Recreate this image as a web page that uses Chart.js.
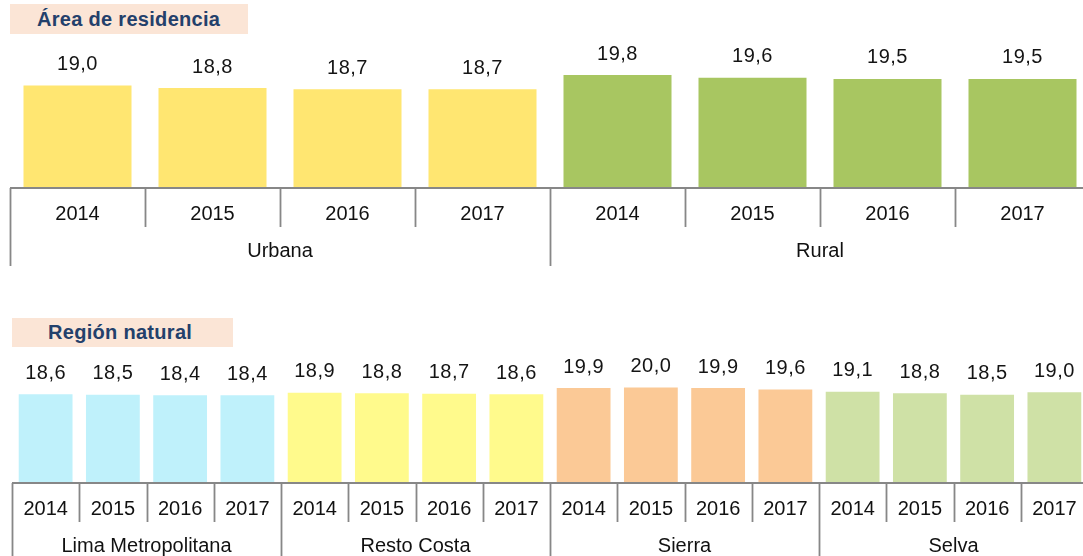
<!DOCTYPE html>
<html lang="es">
<head>
<meta charset="utf-8">
<title>Edad promedio</title>
<script src="https://cdn.jsdelivr.net/npm/chart.js@4/dist/chart.umd.min.js"></script>
<style>
  html, body { margin: 0; padding: 0; background: #fff; overflow: hidden; }
  body { width: 1083px; height: 556px; position: relative; font-family: "Liberation Sans", Arial, sans-serif; }
  .box { position: absolute; width: 1090px; }
  .tag {
    position: absolute; background: #fbe5d6; color: #23406b;
    font-weight: bold; font-size: 20px; letter-spacing: 0.3px;
    box-sizing: border-box; line-height: 30px; white-space: nowrap;
  }
</style>
</head>
<body>
<div class="tag" style="left:10px;top:4px;width:238px;height:30px;padding-left:27px;">Área de residencia</div>
<div class="box" style="left:0;top:0;height:270px;"><canvas id="areaChart"></canvas></div>
<div class="tag" style="left:12px;top:318px;width:221px;height:29px;padding-left:36px;line-height:29px;">Región natural</div>
<div class="box" style="left:0;top:290px;height:266px;"><canvas id="regionChart"></canvas></div>
<script>
'use strict';

const years = ['2014', '2015', '2016', '2017'];
const areaGroups = ['Urbana', 'Rural'];
const areaValues = [19.0, 18.8, 18.7, 18.7, 19.8, 19.6, 19.5, 19.5];
const areaColors = ['#ffe671', '#a8c661'];
const regionGroups = ['Lima Metropolitana', 'Resto Costa', 'Sierra', 'Selva'];
const regionValues = [
  18.6, 18.5, 18.4, 18.4,
  18.9, 18.8, 18.7, 18.6,
  19.9, 20.0, 19.9, 19.6,
  19.1, 18.8, 18.5, 19.0,
];
const regionColors = ['#bff1fb', '#fffa8c', '#fbc996', '#cfe1a6'];

const FONT = '"Liberation Sans", Arial, sans-serif';
const LINE = '#878787';

// value labels above each bar, comma decimal
const valueLabels = {
  id: 'valueLabels',
  afterDatasetsDraw(chart) {
    const ctx = chart.ctx;
    const meta = chart.getDatasetMeta(0);
    const data = chart.data.datasets[0].data;
    ctx.save();
    ctx.font = '20px ' + FONT;
    ctx.letterSpacing = '0.5px';
    ctx.fillStyle = '#141414';
    ctx.textAlign = 'center';
    ctx.textBaseline = 'middle';
    meta.data.forEach((bar, i) => {
      ctx.fillText(data[i].toFixed(1).replace('.', ','), bar.x, bar.y - 21);
    });
    ctx.restore();
  },
};

// two-level category axis: years on top, groups underneath
const twoLevelAxis = {
  id: 'twoLevelAxis',
  afterDraw(chart) {
    const ctx = chart.ctx;
    const x = chart.scales.x;
    const groups = chart.config.options.groupNames;
    const per = years.length;
    const n = chart.data.labels.length;
    const step = x.getPixelForValue(1) - x.getPixelForValue(0);
    const edge = (i) => x.getPixelForValue(0) + (i - 0.5) * step;
    const base = chart.chartArea.bottom;
    ctx.save();
    ctx.strokeStyle = LINE;
    ctx.lineWidth = 1.8;
    ctx.beginPath();
    ctx.moveTo(edge(0), base);
    ctx.lineTo(edge(n), base);
    for (let i = 0; i <= n; i++) {
      const px = Math.round(edge(i)) + 0.5;
      ctx.moveTo(px, base);
      ctx.lineTo(px, base + (i % per === 0 ? 78 : 39));
    }
    ctx.stroke();
    ctx.fillStyle = '#111';
    ctx.textAlign = 'center';
    ctx.textBaseline = 'middle';
    ctx.font = '20px ' + FONT;
    for (let i = 0; i < n; i++) {
      ctx.fillText(years[i % per], x.getPixelForValue(i), base + 26);
    }
    groups.forEach((g, j) => {
      const cx = (edge(j * per) + edge((j + 1) * per)) / 2;
      ctx.fillText(g, cx, base + 63);
    });
    ctx.restore();
  },
};

function makeChart(id, groups, values, colors, yMin, yMax, padding) {
  const labels = groups.flatMap((g) => years.map((y) => g + ' ' + y));
  const bg = values.map((_, i) => colors[Math.floor(i / years.length)]);
  return new Chart(document.getElementById(id), {
    type: 'bar',
    data: {
      labels,
      datasets: [{ data: values, backgroundColor: bg, borderWidth: 0, categoryPercentage: 1, barPercentage: 0.8 }],
    },
    options: {
      groupNames: groups,
      responsive: true,
      maintainAspectRatio: false,
      animation: false,
      layout: { padding },
      plugins: { legend: { display: false }, tooltip: { enabled: false } },
      scales: {
        x: { display: false },
        y: { display: false, min: yMin, max: yMax },
      },
    },
    plugins: [valueLabels, twoLevelAxis],
  });
}

makeChart('areaChart', areaGroups, areaValues, areaColors, 11.1, 22.5, { left: 10, right: 0, top: 40, bottom: 82 });
makeChart('regionChart', regionGroups, regionValues, regionColors, 0, 22, { left: 12, right: 2, top: 88, bottom: 73 });
</script>
</body>
</html>
